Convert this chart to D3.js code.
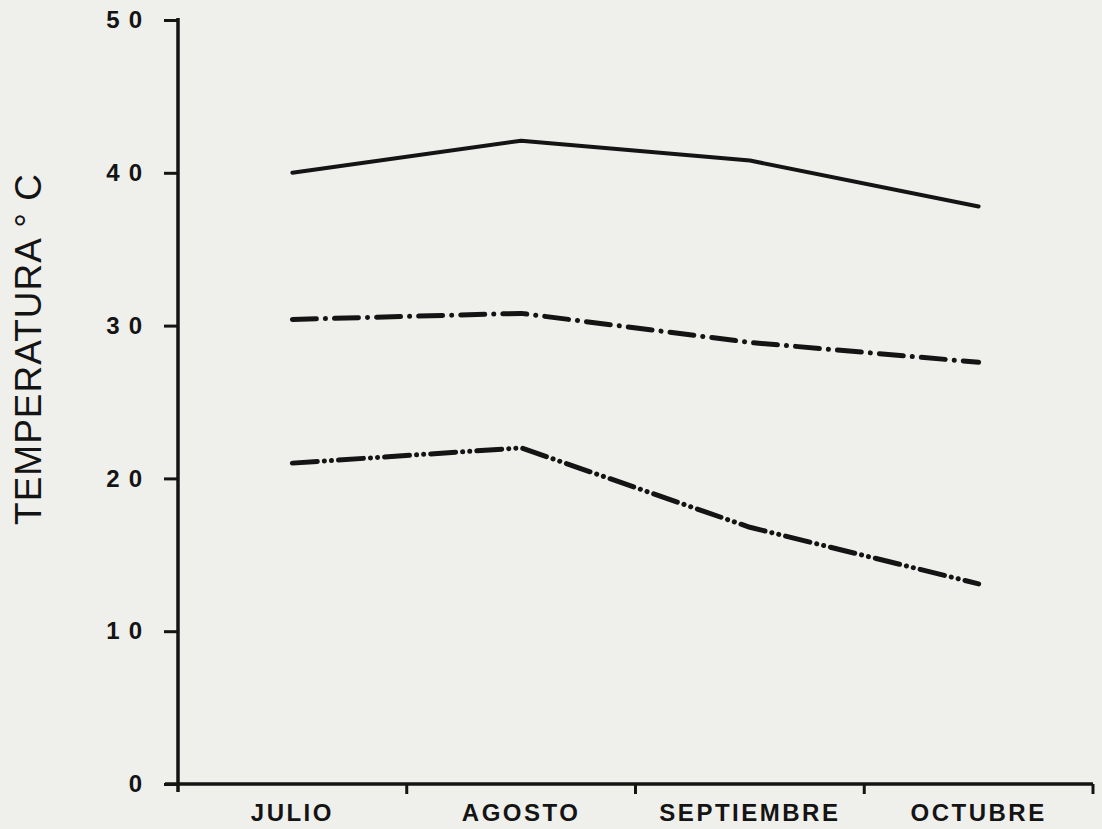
<!DOCTYPE html>
<html>
<head>
<meta charset="utf-8">
<script src="https://cdn.jsdelivr.net/npm/d3@7"></script>
<style>
  body { margin: 0; background: #efefeb; }
  svg { display: block; }
</style>
</head>
<body>
<svg id="chart" width="1102" height="829"></svg>
<script>
// data
let months = ['JULIO', 'AGOSTO', 'SEPTIEMBRE', 'OCTUBRE'];
let maxTemp = [40.0, 42.1, 40.8, 37.8];
let meanTemp = [30.4, 30.8, 28.9, 27.6];
let minTemp = [21.0, 22.0, 16.8, 13.1];
let yTicks = [0, 10, 20, 30, 40, 50];
let yLabel = 'TEMPERATURA ° C';

let ink = '#141414';
let svg = d3.select('#chart');

let x = d3.scaleBand().domain(months).range([178, 1093]).padding(0);
let y = d3.scaleLinear().domain([0, 50]).range([784, 20]);

// y axis
let yAxis = svg.append('g').attr('transform', 'translate(178,0)')
    .call(d3.axisLeft(y).tickValues(yTicks).tickSize(14).tickSizeOuter(0).tickPadding(22));
yAxis.select('.domain').remove();
yAxis.selectAll('line').attr('stroke', ink).attr('stroke-width', 3);
yAxis.selectAll('text')
    .attr('fill', ink)
    .attr('font-family', '"Liberation Sans", Arial, sans-serif')
    .attr('font-weight', 'bold')
    .attr('font-size', 24)
    .style('letter-spacing', '9px')
    .attr('dx', 9);
svg.append('line')
    .attr('x1', 178).attr('x2', 178).attr('y1', y(50) - 2).attr('y2', y(0) + 8)
    .attr('stroke', ink).attr('stroke-width', 3.5);

// x axis: month labels centred in bands, ticks on the band edges
let xAxis = svg.append('g').attr('transform', 'translate(0,' + y(0) + ')')
    .call(d3.axisBottom(x).tickSize(0).tickPadding(20));
xAxis.select('.domain').remove();
xAxis.selectAll('text')
    .attr('fill', ink)
    .style('font-family', '"Liberation Sans", Arial, sans-serif')
    .style('font-weight', 'bold')
    .style('font-size', '24px')
    .style('letter-spacing', '2.5px');

let edges = months.map(function(m){ return x(m); }).concat([x.range()[1]]);
svg.append('line')
    .attr('x1', 165).attr('x2', x.range()[1]).attr('y1', y(0)).attr('y2', y(0))
    .attr('stroke', ink).attr('stroke-width', 3.5);
svg.selectAll('.xtick')
    .data(edges.slice(1))
    .enter().append('line')
    .attr('class', 'xtick')
    .attr('x1', function(d){ return d; }).attr('x2', function(d){ return d; })
    .attr('y1', y(0)).attr('y2', y(0) + 10)
    .attr('stroke', ink).attr('stroke-width', 3);

// y label
svg.append('text')
    .attr('transform', 'translate(41,349) rotate(-90)')
    .attr('text-anchor', 'middle')
    .attr('fill', ink)
    .style('font-family', '"Liberation Sans", Arial, sans-serif')
    .style('font-size', '37px')
    .style('letter-spacing', '1px')
    .text(yLabel);

// series
let series = [
    {values: maxTemp, dash: null, w: 4},
    {values: meanTemp, dash: '24,9,0.1,9', w: 5},
    {values: minTemp, dash: '25,7,0.1,7,0.1,7', w: 5}
];

let line = d3.line()
    .x(function(d, i){ return x(months[i]) + x.bandwidth() / 2; })
    .y(function(d){ return y(d); });

svg.selectAll('.series')
    .data(series)
    .enter().append('path')
    .attr('class', 'series')
    .attr('d', function(d){ return line(d.values); })
    .attr('fill', 'none')
    .attr('stroke', ink)
    .attr('stroke-width', function(d){ return d.w; })
    .attr('stroke-dasharray', function(d){ return d.dash; })
    .style('stroke-linecap', 'round')
    .style('stroke-linejoin', 'round');
</script>
</body>
</html>
